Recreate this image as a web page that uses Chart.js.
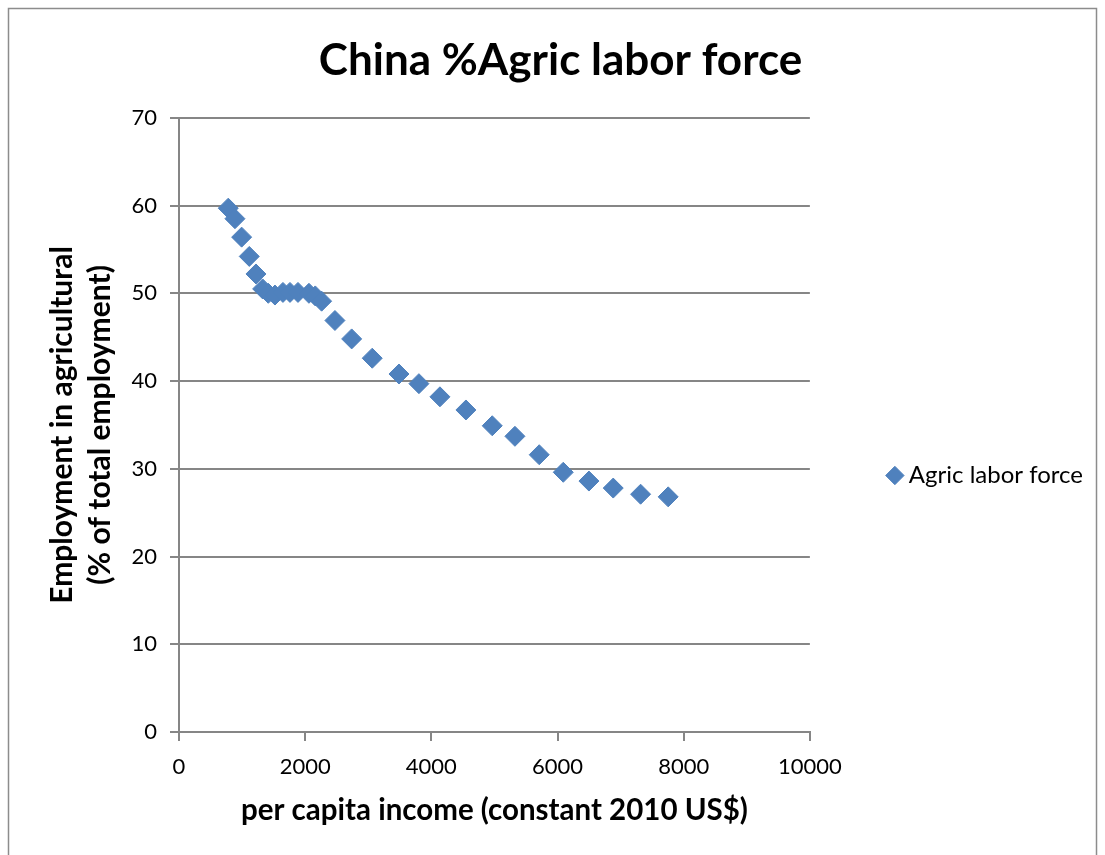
<!DOCTYPE html>
<html>
<head>
<meta charset="utf-8">
<title>China %Agric labor force</title>
<script src="https://cdn.jsdelivr.net/npm/chart.js@4.4.1/dist/chart.umd.min.js"></script>
<style>
  body { margin: 0; background: #fff; }
  #wrap { width: 1105px; height: 855px; }
</style>
</head>
<body>
<div id="wrap"><canvas id="chart" width="1105" height="855"></canvas></div>
<script>
// per capita income (constant 2010 US$), one point per year
var incomeUSD = [781, 887, 993, 1114, 1220, 1326, 1415, 1521, 1648, 1759,
                 1886, 2060, 2160, 2261, 2472, 2737, 3063, 3487, 3803, 4136,
                 4548, 4965, 5325, 5710, 6091, 6498, 6883, 7317, 7754];
// employment in agriculture (% of total employment)
var agricShare = [59.7, 58.5, 56.4, 54.2, 52.2, 50.5, 50.0, 49.8, 50.1, 50.1,
                  50.1, 50.0, 49.7, 49.1, 46.9, 44.8, 42.6, 40.8, 39.7, 38.2,
                  36.7, 34.9, 33.7, 31.6, 29.6, 28.6, 27.8, 27.1, 26.8];
var seriesName = "Agric labor force";
var chartTitle = "China %Agric labor force";
var xTitle = "per capita income (constant 2010 US$)";
var yTitle = ["Employment in agricultural", "(% of total employment)"];

var points = [];
for (var i = 0; i < incomeUSD.length; i++) {
	points.push({ x: incomeUSD[i], y: agricShare[i] });
}

// grey frame round the chart, like the spreadsheet export
var frame = {
	id: "frame",
	beforeDraw: function(chart) {
		var c = chart.ctx;
		c.save();
		c.strokeStyle = "#8c8c8c";
		c.lineWidth = 1.5;
		c.strokeRect(8.5, 8.5, 1088, 860);
		c.restore();
	}
};

var ctx = document.getElementById("chart");

var chart = new Chart(ctx, {
	type: "scatter",
	data: {
		datasets: [{
			label: seriesName,
			data: points,
			pointStyle: "rectRot",
			pointRadius: 10,
			pointHoverRadius: 10,
			backgroundColor: "#4f81bd",
			borderColor: "#4f81bd",
			borderWidth: 1
		}]
	},
	options: {
		responsive: false,
		animation: false,
		layout: { padding: { left: 28, right: 12, top: 10, bottom: 0 } },
		plugins: {
			title: {
				display: true,
				text: chartTitle,
				font: { family: "Lato", size: 44, weight: "bold" },
				color: "#000",
				padding: { top: 24, bottom: 31 }
			},
			legend: {
				display: true,
				position: "right",
				maxWidth: 295,
				title: {
					display: true,
					text: " ",
					font: { size: 10 },
					padding: { top: 74, bottom: 0 }
				},
				labels: {
					usePointStyle: true,
					boxWidth: 4,
					boxHeight: 13,
					padding: 83,
					font: { family: "Lato", size: 24 },
					color: "#000"
				}
			},
			tooltip: { enabled: false }
		},
		scales: {
			x: {
				type: "linear",
				min: 0,
				max: 10000,
				afterFit: function(scale) { scale.height = 123; },
				ticks: {
					stepSize: 2000,
					font: { family: "Lato", size: 22 },
					color: "#000",
					padding: 13,
					callback: function(v) { return String(v); }
				},
				grid: { drawOnChartArea: false, drawTicks: true, tickLength: 9, color: "#868686", lineWidth: 2 },
				border: { color: "#868686", width: 2 },
				title: {
					display: true,
					text: xTitle,
					font: { family: "Lato", size: 29.5, weight: "bold" },
					color: "#000",
					padding: { top: 10, bottom: 27 }
				}
			},
			y: {
				min: 0,
				max: 70,
				afterFit: function(scale) { scale.width = 151; },
				ticks: { stepSize: 10, font: { family: "Lato", size: 22 }, color: "#000", padding: 13 },
				grid: { color: "#868686", lineWidth: 2, tickLength: 9 },
				border: { color: "#868686", width: 2 },
				title: {
					display: true,
					text: yTitle,
					font: { family: "Lato", size: 30, weight: "bold", lineHeight: 1.27 },
					color: "#000",
					padding: { top: 15, bottom: 0 }
				}
			}
		}
	},
	plugins: [frame]
});
</script>
</body>
</html>
